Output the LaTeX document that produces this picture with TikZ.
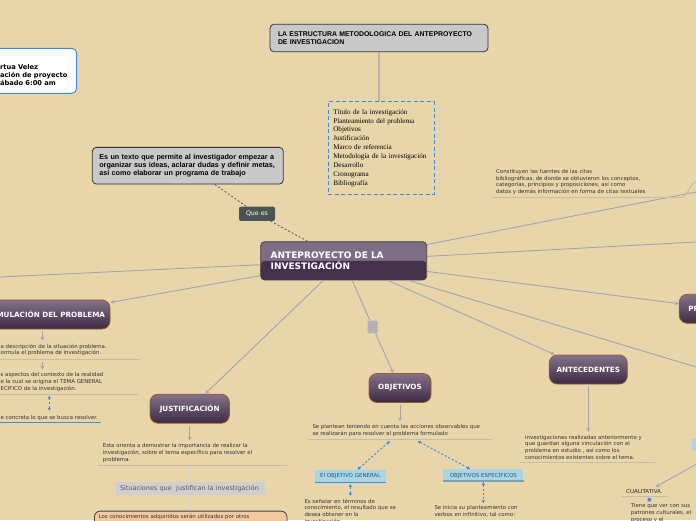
\documentclass[tikz,border=0pt]{standalone}
\usepackage{fontspec}
\setmainfont{DejaVu Sans}
\newfontfamily\arialfont{Liberation Sans}
\newfontfamily\bookfont{Liberation Serif}
\usepackage{tikz}
\usetikzlibrary{arrows.meta}
\usepackage{xcolor}
\definecolor{paper}{HTML}{E9D5AA}
\definecolor{plumtop}{HTML}{7E6E85}
\definecolor{plumbot}{HTML}{45314B}
\definecolor{topictop}{HTML}{84728A}
\definecolor{topicbot}{HTML}{3D2A43}
\definecolor{rust}{HTML}{9A5A2C}
\definecolor{wire}{HTML}{9FA6B2}
\definecolor{rulec}{HTML}{C6BDA7}
\definecolor{stem}{HTML}{B7B2A9}
\definecolor{skyb}{HTML}{3A8EE0}
\definecolor{pale}{HTML}{A9D5E8}
\definecolor{ink}{HTML}{34546A}
\definecolor{boxgray}{HTML}{C8C8C8}
\definecolor{peach}{HTML}{F1C9A0}
\definecolor{slate}{HTML}{4C5453}
\definecolor{lightbar}{HTML}{CFCFCF}
\newcommand{\notesize}{\fontsize{5.4}{6.7}\selectfont}
\tikzset{
  rootnode/.style ={draw=black!75, fill=plumtop, rounded corners=4pt, line width=0.8pt, text=white, align=left,
                    font=\fontsize{9}{10.6}\selectfont\bfseries,
                    path picture={\fill[plumbot] (path picture bounding box.west) rectangle (path picture bounding box.south east);}},
  topic/.style    ={draw=rust, rounded corners=8pt, top color=topictop, bottom color=topicbot, text=white, line width=0.8pt,
                    font=\fontsize{7.2}{8}\selectfont\bfseries, minimum height=29pt, inner sep=0pt},
  graybox/.style  ={draw=black!80, fill=boxgray, rounded corners=4pt, line width=0.8pt, align=left, inner xsep=8pt, inner ysep=0pt},
  paleb/.style    ={fill=pale, text=ink, font=\fontsize{5.5}{6.5}\selectfont, inner sep=0pt},
  note/.style     ={font=\notesize, text=black!80, align=left, anchor=north west, inner sep=0pt},
  wireln/.style   ={draw=wire, line width=0.9pt},                                    % root -> off the page
  arr/.style      ={wireln, -{Stealth[length=4pt,width=4pt]}},                         % root -> topic
  down/.style     ={draw=black!35, line width=1pt, -{Stealth[length=4pt,width=4pt]}, shorten <=2pt, shorten >=3pt},
  twoway/.style   ={skyb, line width=1pt, dash pattern=on 2pt off 2pt, {Latex[length=3pt,width=3.5pt]}-{Latex[length=3pt,width=3.5pt]}},
  dashln/.style   ={draw=black!65, line width=0.8pt, dash pattern=on 2pt off 2pt},
  gdash/.style    ={draw=black!18, line width=1.2pt, dash pattern=on 3pt off 2pt},
  uline/.style    ={draw=rulec, line width=1pt},
}

\begin{document}
\begin{tikzpicture}[x=1pt, y=-1pt]
  \useasboundingbox (0,0) rectangle (696,520);
  \fill[paper] (0,0) rectangle (696,520);
  \clip (0,0) rectangle (696,520);

  % --- top ---
  \node[draw=skyb, fill=white, rounded corners=5pt, line width=1pt, text width=69.7pt, inner xsep=7pt, minimum height=45pt,
        align=left, font=\fontsize{6.7}{7.8}\selectfont\bfseries] (author) at (34.85,70.8)
        {\rule{0pt}{14pt}rtua Velez\\ación de proyecto\\ábado 6:00 am};
  \node[graybox, text width=202pt, minimum height=27.4pt, font=\arialfont\fontsize{6.9}{8.4}\selectfont\bfseries] (struct) at (379,38)
        {LA ESTRUCTURA METODOLOGICA DEL ANTEPROYECTO\\DE INVESTIGACION};
  \node[draw=skyb, dash pattern=on 4pt off 2.5pt, line width=1pt, text width=95.7pt, inner xsep=5pt, minimum height=92.6pt,
        align=left, font=\bookfont\fontsize{7.1}{8.9}\selectfont] (parts) at (381.2,148)
        {Título de la investigación\\Planteamiento del problema\\Objetivos\\Justificación\\Marco de referencia\\Metodología de la investigación\\Desarrollo\\Cronograma\\Bibliografía};
  \draw[draw=stem, line width=1.6pt] (struct.south) -- (struct.south |- parts.north);

  % --- what it is ---
  \node[graybox, text width=177pt, inner xsep=7pt, minimum height=36.7pt, font=\arialfont\fontsize{7.2}{8.4}\selectfont\bfseries] (whatis) at (187.8,165.7)
        {Es un texto que permite al investigador empezar a\\organizar sus ideas, aclarar dudas y definir metas,\\así como elaborar un programa de trabajo};
  \node[fill=slate, rounded corners=2pt, text=white, font=\fontsize{6.3}{7}\selectfont, minimum width=36pt, minimum height=14.3pt, inner sep=0pt] (quees) at (257,213.8) {Que es};

  % --- root ---
  \node[rootnode, text width=146pt, inner xsep=10pt, minimum height=38.3pt] (ante) at (343.7,260.8) {ANTEPROYECTO DE LA\\INVESTIGACIÓN};
  \draw[dashln] (whatis) -- (quees);
  \draw[dashln] (quees) -- (ante);

  % --- topics ---
  \node[topic, minimum width=135pt] (form) at (42.5,314.5) {FORMULACIÓN DEL PROBLEMA};
  \node[topic, minimum width=79.3pt] (just) at (189.7,408.7) {JUSTIFICACIÓN};
  \node[topic, minimum width=62pt] (objs) at (400,388) {OBJETIVOS};
  \node[topic, minimum width=78pt] (antec) at (588.3,369.5) {ANTECEDENTES};
  \node[topic, text width=62pt, inner xsep=9pt, align=left] (prob) at (719.3,308.8) {PR};
  \node[fill=black!30, rounded corners=1pt, minimum width=10pt, minimum height=12.6pt, inner sep=0pt] (knob) at (372.7,327) {};

  \coordinate (offW) at (0,277);
  \coordinate (offNE) at (696,192);
  \coordinate (offE) at (696,242);
  \coordinate (offSE) at (696,367);
  \draw[wireln] (ante) -- (offW);
  \draw[arr] (ante) -- (form);
  \draw[arr] (ante) -- (just);
  \draw[wireln] (ante) -- (knob);
  \draw[arr] (knob) -- (objs);
  \draw[arr] (ante) -- (antec);
  \draw[arr] (ante) -- (prob);
  \draw[wireln] (ante) -- (offNE);
  \draw[wireln] (ante) -- (offE);
  \draw[wireln] (ante) -- (offSE);

  % --- formulacion ---
  \node[note] (f1) at (0.5,343.5) {a descripción de la situación problema.\\ormula el problema de investigación.};
  \draw[uline] (0,359) -- (140,359);
  \node[note] (f2) at (0.5,372.5) {s aspectos del contexto de la realidad\\e la cual se origina el TEMA GENERAL\\ECIFICO de la investigación.};
  \draw[uline] (0,394) -- (138,394);
  \node[note] (f3) at (0.5,414.8) {e concreta lo que se busca resolver.};
  \draw[skyb, line width=1.3pt] (0,422.7) -- (101,422.7);
  \draw[down] (form.south) -- (form.south |- f1.north);
  \draw[down] ([yshift=-4pt]f1.south -| form.south) -- (f2.north -| form.south);
  \draw[twoway] ([yshift=-4pt]f2.south -| f3.north) -- ([yshift=4pt]f3.north);

  % --- justificacion ---
  \node[note] (j1) at (102.7,443.5) {Esta orienta a demostrar la importancia de realizar la\\investigación, sobre el tema específico para resolver el\\problema.};
  \draw[uline] (98,465.3) -- (287,465.3);
  \draw[down] (just.south) -- (just.south |- j1.north);
  \node[fill=lightbar, text=black!65, font=\fontsize{6.5}{7.5}\selectfont, text width=141pt, inner xsep=4pt, inner ysep=0pt,
        minimum height=13.3pt, align=left] (sit) at (190.5,488.3) {Situaciones que \ justifican la investigación};
  \draw[gdash] ([yshift=-3pt]j1.south -| sit.north) -- (sit.north);
  \node[fill=peach, draw=black!75, rounded corners=6pt, line width=0.8pt, anchor=north west, text width=184pt, inner xsep=4.3pt,
        inner ysep=3.5pt, text depth=20pt, align=left, font=\notesize, text=black!80] (uses) at (94,510.7)
        {Los conocimientos adquiridos serán utilizados por otros};
  \draw[gdash] (sit.south) -- (sit.south |- uses.north);

  % --- objetivos ---
  \node[note] (o1) at (312.3,424.2) {Se plantean teniendo en cuenta las acciones observables que\\se realizarán para resolver el problema formulado};
  \draw[uline] (308,439.5) -- (492,439.5);
  \draw[down] (objs.south) -- (objs.south |- o1.north);
  \coordinate (o1l) at (390,441);
  \coordinate (o1r) at (417.7,441);
  \node[paleb, minimum width=70.7pt, minimum height=12.7pt] (ogen) at (350.3,476.3) {El OBJETIVO GENERAL};
  \draw[skyb, line width=1.2pt] (ogen.south west) -- (ogen.south east);
  \node[paleb, minimum width=80pt, minimum height=11.4pt] (oesp) at (483.3,475) {OBJETIVOS ESPECÍFICOS};
  \draw[draw=ink!40!pale, line width=1.2pt] (oesp.south west) -- (oesp.south east);
  \draw[twoway] (o1l) -- ([xshift=7pt]ogen.north);
  \draw[twoway] (o1r) -- ([xshift=-13pt]oesp.north);
  \node[note] (og1) at (304.3,498.5) {Es señalar en términos de\\conocimiento, el resultado que se\\desea obtener en la\\investigación.};
  \draw[twoway] ([yshift=-1pt]ogen.south) -- ([yshift=2.5pt]ogen.south |- og1.north);
  \node[note] (oe1) at (434.3,505.6) {Se inicia su planteamiento con\\verbos en infinitivo, tal como:};
  \draw[twoway] ([yshift=-1pt]oesp.south) -- ([yshift=2.3pt]oesp.south |- oe1.north);

  % --- antecedentes ---
  \node[note] (a1) at (525,434.8) {Investigaciones realizadas anteriormente y\\que guardan alguna vinculación con el\\problema en estudio , así como los\\conocimientos existentes sobre el tema.};
  \draw[uline] (520,462.3) -- (655,462.3);
  \draw[down] (antec.south) -- (antec.south |- a1.north);

  % --- right edge ---
  \node[note] (c1) at (496,169.2) {Constituyen las fuentes de las citas\\bibliográficas, de donde se obtuvieron los conceptos,\\categorías, principios y proposiciones, así como\\datos y demás información en forma de citas textuales};
  \coordinate (c1end) at (681.7,197.3);
  \coordinate (offNE2) at (696,181.5);
  \draw[uline] (491.7,197.3) -- (c1end);
  \draw[uline] (c1end) .. controls +(6,-1) and +(-6,2) .. (offNE2);
  \node[fill=pale, anchor=north west, minimum width=20pt, minimum height=12pt, inner sep=0pt] (metod) at (691.7,438.3) {};
  \node[note, font=\fontsize{5.5}{6.5}\selectfont, text=black!85] (cuali) at (626,488.8) {CUALITATIVA.};
  \draw[uline] (621.7,496) -- (668.3,496);
  \node[fill=skyb, minimum size=3.5pt, inner sep=0pt, rounded corners=0.5pt] (attach) at (649.3,499.5) {};
  \coordinate (offS) at (696,464.5);
  \draw[arr] (offS) -- ([xshift=-7pt,yshift=2pt]cuali.north east);
  \node[note] (cu1) at (630.7,503.3) {Tiene que ver con sus\\patrones culturales, el\\proceso y el};
\end{tikzpicture}
\end{document}
